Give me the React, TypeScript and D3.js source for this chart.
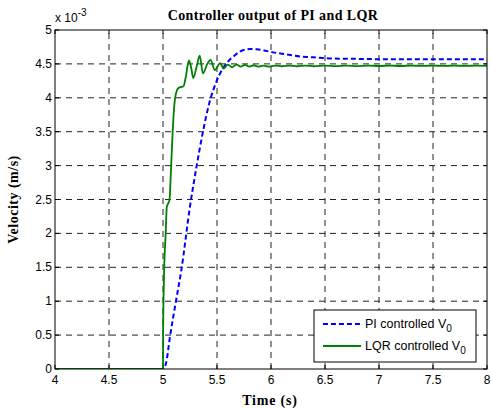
import React from "react";
import * as d3 from "d3";

const xTicks = [4, 4.5, 5, 5.5, 6, 6.5, 7, 7.5, 8];
const yTicks = [0, 0.5, 1, 1.5, 2, 2.5, 3, 3.5, 4, 4.5, 5];

const piTime = [4, 5.0, 5.03, 5.065, 5.12, 5.17, 5.25, 5.31, 5.37, 5.43, 5.49, 5.55, 5.6, 5.66, 5.71, 5.76, 5.81, 5.87, 5.93, 6.02, 6.1, 6.18, 6.27, 6.36, 6.45, 6.55, 6.75, 7, 7.5, 8];
const piValue = [0, 0, 0.1, 0.48, 1.0, 1.46, 2.4, 2.98, 3.5, 3.93, 4.22, 4.42, 4.53, 4.62, 4.68, 4.71, 4.72, 4.715, 4.7, 4.67, 4.65, 4.63, 4.61, 4.6, 4.59, 4.58, 4.575, 4.57, 4.57, 4.57];

const lqrTime = [4, 5.0, 5.001, 5.01, 5.025, 5.035, 5.06, 5.07, 5.09, 5.11, 5.14, 5.17, 5.19, 5.21, 5.24, 5.26, 5.28, 5.31, 5.34, 5.37, 5.41, 5.44, 5.48, 5.53, 5.56, 5.6, 5.64, 5.68, 5.72, 5.76, 5.8, 5.84, 5.88, 5.93, 5.98, 6.04, 6.1, 6.17, 6.24, 6.32, 6.4, 6.5, 6.6, 6.7, 6.8, 6.9, 7.0, 7.1, 7.2, 7.3, 7.4, 7.5, 7.6, 7.7, 7.8, 7.9, 8];
const lqrValue = [0, 0, 0.53, 1.41, 2.0, 2.39, 2.49, 2.79, 3.52, 3.97, 4.14, 4.16, 4.17, 4.3, 4.55, 4.45, 4.29, 4.45, 4.62, 4.36, 4.5, 4.56, 4.41, 4.51, 4.43, 4.49, 4.45, 4.49, 4.46, 4.485, 4.46, 4.48, 4.46, 4.475, 4.46, 4.475, 4.465, 4.475, 4.465, 4.475, 4.465, 4.475, 4.468, 4.476, 4.468, 4.476, 4.469, 4.476, 4.469, 4.476, 4.47, 4.476, 4.47, 4.476, 4.47, 4.476, 4.472];

const W = 491;
const H = 409;
const M = { left: 55, right: 4, top: 30, bottom: 40 };
const sans = "'Liberation Sans', Arial, sans-serif";
const serif = "'Liberation Serif', 'Times New Roman', serif";

export default function App() {
  const x = d3.scaleLinear().domain([4, 8]).range([M.left, W - M.right]);
  const y = d3.scaleLinear().domain([0, 5]).range([H - M.bottom, M.top]);
  const x0 = x.range()[0], x1 = x.range()[1];
  const y0 = y.range()[0], y1 = y.range()[1];

  const line = d3
    .line<[number, number]>()
    .x((d) => x(d[0]))
    .y((d) => y(d[1]))
    .curve(d3.curveMonotoneX);
  const piPts = piTime.map((t, i) => [t, piValue[i]] as [number, number]);
  const lqrPts = lqrTime.map((t, i) => [t, lqrValue[i]] as [number, number]);

  const lx = 314, ly = 310, lw = 162, lh = 52;

  return (
    <svg width={W} height={H} style={{ position: "absolute", left: 0, top: 0, background: "#fff" }}>
      <rect x={0} y={0} width={W} height={H} fill="#fff" />
      <defs>
        <clipPath id="plot">
          <rect x={x0} y={y1} width={x1 - x0} height={y0 - y1} />
        </clipPath>
      </defs>
      {/* grid */}
      {xTicks.slice(1, -1).map((t) => (
        <line key={"gx" + t} x1={x(t)} x2={x(t)} y1={y0} y2={y1} stroke="#222" strokeWidth={1} strokeDasharray="6,5" />
      ))}
      {yTicks.slice(1, -1).map((t) => (
        <line key={"gy" + t} x1={x0} x2={x1} y1={y(t)} y2={y(t)} stroke="#222" strokeWidth={1} strokeDasharray="6,5" />
      ))}
      {/* ticks */}
      {xTicks.map((t) => (
        <g key={"tx" + t}>
          <line x1={x(t)} x2={x(t)} y1={y0} y2={y0 - 4} stroke="#000" />
          <line x1={x(t)} x2={x(t)} y1={y1} y2={y1 + 4} stroke="#000" />
          <text x={x(t)} y={y0 + 15} textAnchor="middle" fontFamily={sans} fontSize={12}>{t}</text>
        </g>
      ))}
      {yTicks.map((t) => (
        <g key={"ty" + t}>
          <line x1={x0} x2={x0 + 4} y1={y(t)} y2={y(t)} stroke="#000" />
          <line x1={x1} x2={x1 - 4} y1={y(t)} y2={y(t)} stroke="#000" />
          <text x={x0 - 3} y={y(t) + 4} textAnchor="end" fontFamily={sans} fontSize={12}>{t}</text>
        </g>
      ))}
      {/* data */}
      <g clipPath="url(#plot)">
        <path d={line(piPts) || ""} fill="none" stroke="#0000ff" strokeWidth={2} strokeDasharray="5,3" />
        <path d={line(lqrPts) || ""} fill="none" stroke="#008000" strokeWidth={1.8} />
      </g>
      {/* box */}
      <rect x={x0} y={y1} width={x1 - x0} height={y0 - y1} fill="none" stroke="#000" strokeWidth={1} />
      {/* exponent */}
      <text x={x0} y={22} fontFamily={sans} fontSize={12}>
        x 10<tspan dy={-6} fontSize={10}>-3</tspan>
      </text>
      {/* title */}
      <text x={273} y={20} textAnchor="middle" fontFamily={serif} fontWeight="bold" fontSize={14} letterSpacing={0.4}>
        Controller output of PI and LQR
      </text>
      <text x={270} y={405} textAnchor="middle" fontFamily={serif} fontWeight="bold" fontSize={14} letterSpacing={0.8}>
        Time (s)
      </text>
      <text transform={`translate(18,${(y0 + y1) / 2}) rotate(-90)`} textAnchor="middle" fontFamily={serif} fontWeight="bold" fontSize={14} letterSpacing={0.5}>
        Velocity (m/s)
      </text>
      {/* legend */}
      <rect x={lx} y={ly} width={lw} height={lh} fill="#fff" stroke="#000" strokeWidth={1} />
      <line x1={lx + 9} x2={lx + 47} y1={ly + 14} y2={ly + 14} stroke="#0000ff" strokeWidth={2} strokeDasharray="5,3" />
      <text x={lx + 51} y={ly + 18} fontFamily={sans} fontSize={12.5}>
        PI controlled V<tspan dy={4} fontSize={10}>0</tspan>
      </text>
      <line x1={lx + 9} x2={lx + 47} y1={ly + 36} y2={ly + 36} stroke="#008000" strokeWidth={1.8} />
      <text x={lx + 51} y={ly + 40} fontFamily={sans} fontSize={12.5}>
        LQR controlled V<tspan dy={4} fontSize={10}>0</tspan>
      </text>
    </svg>
  );
}
